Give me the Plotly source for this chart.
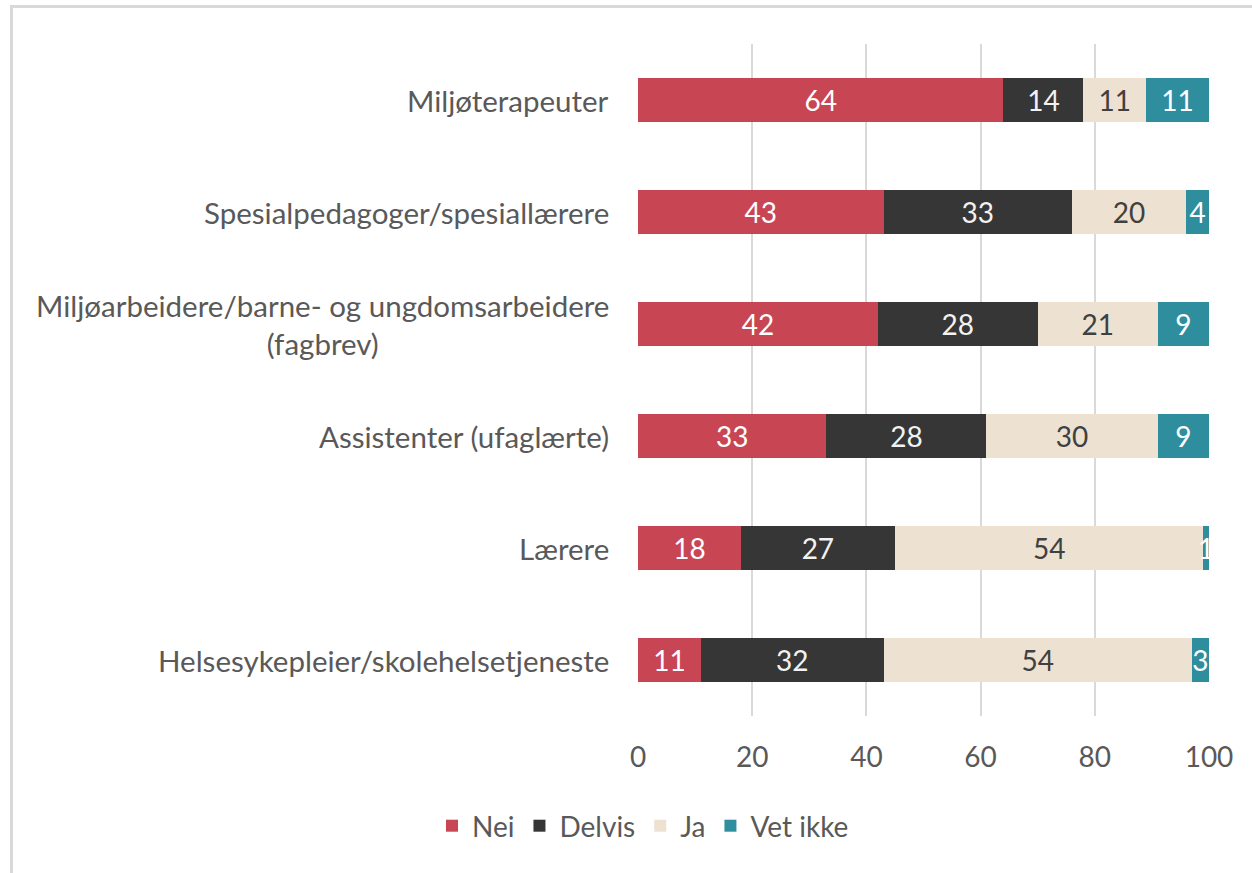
import plotly.graph_objects as go

categories = [
    "Miljøterapeuter",
    "Spesialpedagoger/spesiallærere",
    "Miljøarbeidere/barne- og ungdomsarbeidere<br>(fagbrev)",
    "Assistenter (ufaglærte)",
    "Lærere",
    "Helsesykepleier/skolehelsetjeneste",
]
nei = [64, 43, 42, 33, 18, 11]
delvis = [14, 33, 28, 28, 27, 32]
ja = [11, 20, 21, 30, 54, 54]
vet_ikke = [11, 4, 9, 9, 1, 3]

series = [
    ("Nei", nei, "#C84654", "#FFFFFF"),
    ("Delvis", delvis, "#363636", "#F2F2F2"),
    ("Ja", ja, "#EDE1D2", "#404040"),
    ("Vet ikke", vet_ikke, "#2E8E9E", "#FFFFFF"),
]

W, H = 1252, 873
L, R, T, B = 638, 43, 44, 157
FONT = "Lato"
TXT = "#595959"
FS = 28

fig = go.Figure()
for name, vals, color, tcolor in series:
    fig.add_trace(go.Bar(
        y=categories, x=vals, name=name, orientation="h",
        marker=dict(color=color, line=dict(width=0)),
        text=vals, texttemplate="%{x}", textposition="inside",
        insidetextanchor="middle", constraintext="none",
        textfont=dict(color=tcolor, size=FS, family=FONT),
    ))

pw = W - L - R
ph = H - T - B


def px_x(p):
    return (p - L) / pw


def px_y(p):
    return (H - B - p) / ph


annotations = []
for c in categories:
    annotations.append(dict(
        x=0, xref="paper", y=c, yref="y", text=c, showarrow=False,
        xanchor="right", yanchor="middle", align="center", xshift=-27,
        font=dict(size=29.5, family=FONT, color=TXT),
    ))

shapes = [
    dict(type="line", xref="paper", yref="paper", x0=px_x(10), x1=px_x(1252),
         y0=px_y(6.5), y1=px_y(6.5), line=dict(color="#D9D9D9", width=3)),
    dict(type="line", xref="paper", yref="paper", x0=px_x(11.5), x1=px_x(11.5),
         y0=px_y(5), y1=px_y(873), line=dict(color="#D9D9D9", width=3)),
]

fig.update_layout(
    width=W, height=H,
    margin=dict(l=L, r=R, t=T, b=B),
    barmode="stack", bargap=0.6,
    plot_bgcolor="white", paper_bgcolor="white",
    font=dict(family=FONT, size=FS, color=TXT),
    uniformtext=dict(mode="show", minsize=FS),
    showlegend=True,
    legend=dict(orientation="h", x=px_x(643), xanchor="center",
                y=px_y(826), yanchor="middle",
                font=dict(size=FS, family=FONT, color=TXT),
                itemwidth=30, traceorder="normal"),
    annotations=annotations,
    shapes=shapes,
)
fig.update_xaxes(range=[0, 100], tickvals=[0, 20, 40, 60, 80, 100],
                 showgrid=True, gridcolor="#D9D9D9", gridwidth=1.5,
                 zeroline=False, showline=False, ticks="",
                 ticklabelstandoff=22,
                 tickfont=dict(size=FS, family=FONT, color=TXT))
fig.update_yaxes(autorange="reversed", showticklabels=False, showgrid=False,
                 zeroline=False, showline=False, ticks="")

fig.write_html("out.html", config={"displayModeBar": False},
               post_script="document.body.style.margin='0';")
